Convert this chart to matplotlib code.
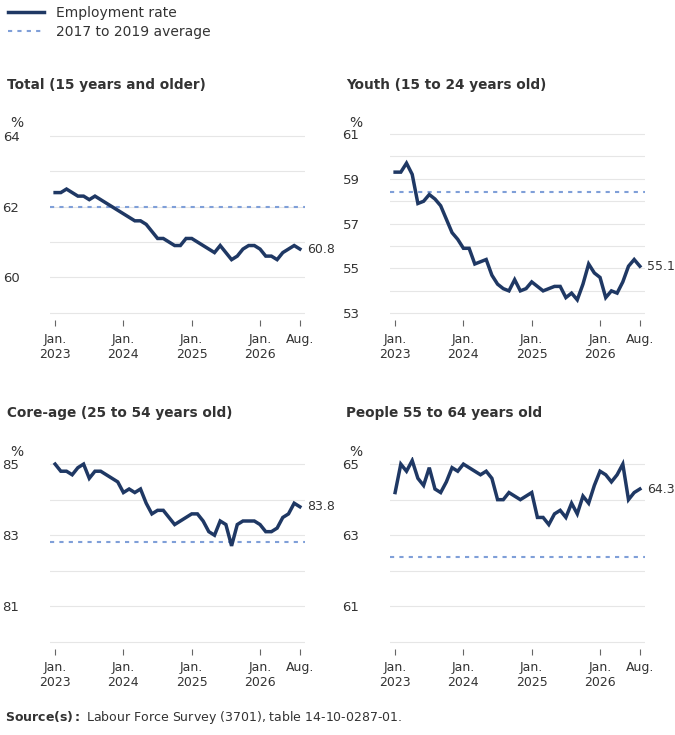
import matplotlib
matplotlib.use("Agg")
import matplotlib.pyplot as plt
from matplotlib.lines import Line2D

titles = ["Total (15 years and older)", "Youth (15 to 24 years old)",
          "Core-age (25 to 54 years old)", "People 55 to 64 years old"]
total = [62.4,62.4,62.5,62.4,62.3,62.3,62.2,62.3,62.2,62.1,62.0,61.9,
         61.8,61.7,61.6,61.6,61.5,61.3,61.1,61.1,61.0,60.9,60.9,61.1,
         61.1,61.0,60.9,60.8,60.7,60.9,60.7,60.5,60.6,60.8,60.9,60.9,
         60.8,60.6,60.6,60.5,60.7,60.8,60.9,60.8]
youth = [59.3,59.3,59.7,59.2,57.9,58.0,58.3,58.1,57.8,57.2,56.6,56.3,
         55.9,55.9,55.2,55.3,55.4,54.7,54.3,54.1,54.0,54.5,54.0,54.1,
         54.4,54.2,54.0,54.1,54.2,54.2,53.7,53.9,53.6,54.3,55.2,54.8,
         54.6,53.7,54.0,53.9,54.4,55.1,55.4,55.1]
core = [85.0,84.8,84.8,84.7,84.9,85.0,84.6,84.8,84.8,84.7,84.6,84.5,
        84.2,84.3,84.2,84.3,83.9,83.6,83.7,83.7,83.5,83.3,83.4,83.5,
        83.6,83.6,83.4,83.1,83.0,83.4,83.3,82.7,83.3,83.4,83.4,83.4,
        83.3,83.1,83.1,83.2,83.5,83.6,83.9,83.8]
older = [64.2,65.0,64.8,65.1,64.6,64.4,64.9,64.3,64.2,64.5,64.9,64.8,
         65.0,64.9,64.8,64.7,64.8,64.6,64.0,64.0,64.2,64.1,64.0,64.1,
         64.2,63.5,63.5,63.3,63.6,63.7,63.5,63.9,63.6,64.1,63.9,64.4,
         64.8,64.7,64.5,64.7,65.0,64.0,64.2,64.3]
averages = [62.0, 58.4, 82.8, 62.4]
series = [total, youth, core, older]
ylims = [(58.79, 64.23), (52.7, 61.27), (79.8, 85.2), (59.8, 65.2)]
yticks = [[60, 62, 64], [53, 55, 57, 59, 61], [81, 83, 85], [61, 63, 65]]
ygrid = [[59, 60, 61, 62, 63, 64], list(range(53, 62)), [80, 81, 82, 83, 84, 85], [60, 61, 62, 63, 64, 65]]
xtick_pos = [0, 12, 24, 36, 43]
xtick_labels = ["Jan.\n2023", "Jan.\n2024", "Jan.\n2025", "Jan.\n2026", "Aug."]

W, H = 675, 735
fig = plt.figure(figsize=(6.75, 7.35), dpi=100)
navy = "#1f3864"
avgc = "#7f9fd8"
txt = "#333333"

boxes = [(50, 128), (390, 128), (50, 457), (390, 457)]
tpos = [(7, 85), (346, 85), (7, 413), (346, 413)]
for i in range(4):
    x0, ytop = boxes[i]
    ax = fig.add_axes([x0 / W, 1 - (ytop + 192) / H, 255 / W, 192 / H])
    ys = series[i]
    xs = list(range(len(ys)))
    for g in ygrid[i]:
        ax.axhline(g, color="#e6e6e6", lw=0.8, zorder=0)
    ax.axhline(averages[i], color=avgc, lw=1.5, ls=(0, (2, 2.5)), zorder=1)
    ax.plot(xs, ys, color=navy, lw=2.5, zorder=3, solid_joinstyle="miter")
    ax.text(xs[-1] + 1.3, ys[-1], f"{ys[-1]:.1f}", va="center", ha="left", fontsize=9, color=txt)
    ax.set_xlim(-0.9, 43.9)
    ax.set_ylim(*ylims[i])
    ax.set_yticks(yticks[i])
    ax.set_xticks(xtick_pos)
    ax.set_xticklabels(xtick_labels, fontsize=9, color=txt)
    ax.tick_params(axis="y", length=0, labelsize=9.5, labelcolor=txt, pad=22)
    ax.tick_params(axis="x", length=4, color="#666666", pad=5)
    for s in ax.spines.values():
        s.set_visible(False)
    ax.set_facecolor("none")
    fig.text(tpos[i][0] / W, 1 - tpos[i][1] / H, titles[i], fontsize=9.8, fontweight="bold",
             color=txt, va="center", ha="left")
    fig.text((tpos[i][0] + 3) / W, 1 - (ytop - 5) / H, "%", fontsize=10, color=txt, va="center")

handles = [Line2D([], [], color=navy, lw=2.5),
           Line2D([], [], color=avgc, lw=1.5, ls=(0, (2, 2.5)))]
fig.legend(handles, ["Employment rate", "2017 to 2019 average"], loc="upper left",
           bbox_to_anchor=(0.0, 1.003), frameon=False, fontsize=10, handlelength=2.6,
           labelcolor=txt, borderaxespad=0.2, labelspacing=0.35)
fig.text(5 / W, 1 - 718 / H, r"$\bf{Source(s):}$ Labour Force Survey (3701), table 14-10-0287-01.",
         fontsize=9, color=txt, va="center")
fig.savefig("out.png", dpi=100)
